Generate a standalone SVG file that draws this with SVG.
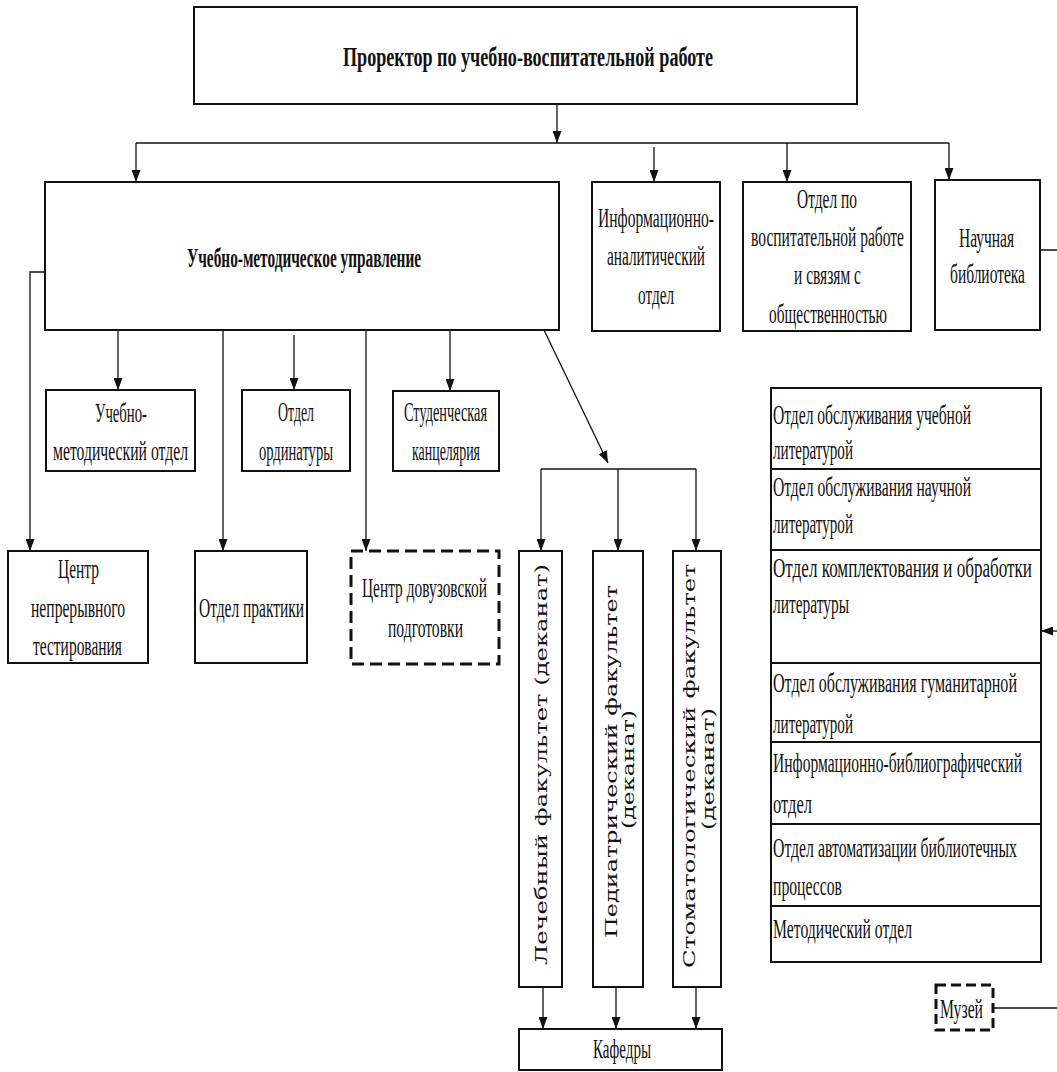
<svg xmlns="http://www.w3.org/2000/svg" width="1057" height="1072" viewBox="0 0 1057 1072">
<defs>
<marker id="ah" markerUnits="userSpaceOnUse" markerWidth="12" markerHeight="9" refX="12" refY="4.5" orient="auto">
<path d="M0,0 L12,4.5 L0,9 z" fill="#111"/>
</marker>
<style>
.box{fill:#fff;stroke:#111;stroke-width:2}
.dash{fill:#fff;stroke:#111;stroke-width:3;stroke-dasharray:12 6}
.c{fill:none;stroke:#111;stroke-width:1.3}
.a{marker-end:url(#ah)}
text{font-family:"Liberation Serif","Times New Roman",serif;font-size:28px;fill:#111}
.b{font-weight:bold}
.v{font-family:"DejaVu Serif","Liberation Serif",serif;font-size:17px}
</style>
</defs>
<rect width="1057" height="1072" fill="#fff"/>

<g id="connectors">
<path class="c a" d="M557,104 V143"/>
<path class="c" d="M136,143 H949"/>
<path class="c a" d="M136,143 V182"/>
<path class="c a" d="M654,147 V182"/>
<path class="c a" d="M787,143 V182"/>
<path class="c a" d="M949,143 V180"/>
<path class="c a" d="M45,272 H30 V551"/>
<path class="c a" d="M118,330 V390"/>
<path class="c a" d="M223,330 V551"/>
<path class="c a" d="M294,335 V390"/>
<path class="c a" d="M366,330 V551"/>
<path class="c a" d="M450,330 V391"/>
<path class="c a" d="M544,330 L608,463"/>
<path class="c" d="M541,469 H696"/>
<path class="c a" d="M541,469 V551"/>
<path class="c a" d="M618,469 V551"/>
<path class="c a" d="M696,469 V551"/>
<path class="c a" d="M543,987 V1029"/>
<path class="c a" d="M616,987 V1029"/>
<path class="c a" d="M696,987 V1029"/>
<path class="c" d="M1040,250 H1058 V1008 H993"/>
<path class="c a" d="M1058,631 H1041"/>
</g>

<g id="prorector">
<rect class="box" x="194" y="7" width="663" height="97"/>
<text class="b" transform="translate(343,66) scale(.56,1)" textLength="660.7" lengthAdjust="spacingAndGlyphs">Проректор по учебно-воспитательной работе</text>
</g>

<g id="umu">
<rect class="box" x="45" y="182" width="514" height="148"/>
<text class="b" transform="translate(187,267) scale(.56,1)" textLength="417.9" lengthAdjust="spacingAndGlyphs">Учебно-методическое управление</text>
</g>

<g id="info">
<rect class="box" x="592" y="182" width="128" height="149"/>
<text transform="translate(598,227) scale(.56,1)" textLength="207.1" lengthAdjust="spacingAndGlyphs">Информационно-</text>
<text transform="translate(607,265) scale(.56,1)" textLength="175" lengthAdjust="spacingAndGlyphs">аналитический</text>
<text transform="translate(638,304) scale(.56,1)" textLength="64.3" lengthAdjust="spacingAndGlyphs">отдел</text>
</g>

<g id="vospit">
<rect class="box" x="743" y="182" width="168" height="149"/>
<text transform="translate(797,208) scale(.56,1)" textLength="107.1" lengthAdjust="spacingAndGlyphs">Отдел по</text>
<text transform="translate(751,246) scale(.56,1)" textLength="273.2" lengthAdjust="spacingAndGlyphs">воспитательной работе</text>
<text transform="translate(794,284) scale(.56,1)" textLength="119.6" lengthAdjust="spacingAndGlyphs">и связям с</text>
<text transform="translate(769,323) scale(.56,1)" textLength="210.7" lengthAdjust="spacingAndGlyphs">общественностью</text>
</g>

<g id="library">
<rect class="box" x="935" y="180" width="105" height="150"/>
<text transform="translate(959,247) scale(.56,1)" textLength="98.2" lengthAdjust="spacingAndGlyphs">Научная</text>
<text transform="translate(950,283) scale(.56,1)" textLength="133.9" lengthAdjust="spacingAndGlyphs">библиотека</text>
</g>

<g id="umo">
<rect class="box" x="46" y="390" width="149" height="81"/>
<text transform="translate(95,422) scale(.56,1)" textLength="92.9" lengthAdjust="spacingAndGlyphs">Учебно-</text>
<text transform="translate(53,460) scale(.56,1)" textLength="241.1" lengthAdjust="spacingAndGlyphs">методический отдел</text>
</g>

<g id="ordinatura">
<rect class="box" x="242" y="390" width="108" height="81"/>
<text transform="translate(278,421) scale(.56,1)" textLength="64.3" lengthAdjust="spacingAndGlyphs">Отдел</text>
<text transform="translate(259,460) scale(.56,1)" textLength="132.1" lengthAdjust="spacingAndGlyphs">ординатуры</text>
</g>

<g id="kancelyaria">
<rect class="box" x="393" y="391" width="106" height="80"/>
<text transform="translate(404,421) scale(.56,1)" textLength="148.2" lengthAdjust="spacingAndGlyphs">Студенческая</text>
<text transform="translate(412,460) scale(.56,1)" textLength="121.4" lengthAdjust="spacingAndGlyphs">канцелярия</text>
</g>

<g id="cnt">
<rect class="box" x="8" y="551" width="140" height="112"/>
<text transform="translate(58,578) scale(.56,1)" textLength="73.2" lengthAdjust="spacingAndGlyphs">Центр</text>
<text transform="translate(31,617) scale(.56,1)" textLength="167.9" lengthAdjust="spacingAndGlyphs">непрерывного</text>
<text transform="translate(33,655) scale(.56,1)" textLength="158.9" lengthAdjust="spacingAndGlyphs">тестирования</text>
</g>

<g id="praktika">
<rect class="box" x="195" y="551" width="112" height="112"/>
<text transform="translate(199,617) scale(.56,1)" textLength="187.5" lengthAdjust="spacingAndGlyphs">Отдел практики</text>
</g>

<g id="cdp">
<rect class="dash" x="351" y="551" width="148" height="113"/>
<text transform="translate(362,597) scale(.56,1)" textLength="223.2" lengthAdjust="spacingAndGlyphs">Центр довузовской</text>
<text transform="translate(388,637) scale(.56,1)" textLength="133.9" lengthAdjust="spacingAndGlyphs">подготовки</text>
</g>

<g id="lech">
<rect class="box" x="519" y="551" width="43" height="436"/>
<text class="v" transform="translate(547,965) rotate(-90)" textLength="401" lengthAdjust="spacingAndGlyphs">Лечебный факультет (деканат)</text>
</g>

<g id="ped">
<rect class="box" x="593" y="551" width="50" height="436"/>
<text class="v" transform="translate(617,938) rotate(-90)" textLength="353" lengthAdjust="spacingAndGlyphs">Педиатрический факультет</text>
<text class="v" transform="translate(634,829) rotate(-90)" textLength="119" lengthAdjust="spacingAndGlyphs">(деканат)</text>
</g>

<g id="stom">
<rect class="box" x="673" y="551" width="48" height="436"/>
<text class="v" transform="translate(695,968) rotate(-90)" textLength="404" lengthAdjust="spacingAndGlyphs">Стоматологический факультет</text>
<text class="v" transform="translate(714,830) rotate(-90)" textLength="122" lengthAdjust="spacingAndGlyphs">(деканат)</text>
</g>

<g id="kafedry">
<rect class="box" x="519" y="1029" width="203" height="41"/>
<text transform="translate(593,1058) scale(.56,1)" textLength="103.6" lengthAdjust="spacingAndGlyphs">Кафедры</text>
</g>

<g id="lib-uch">
<rect class="box" x="771" y="388" width="270" height="81"/>
<text transform="translate(773,424) scale(.56,1)" textLength="353.6" lengthAdjust="spacingAndGlyphs">Отдел обслуживания учебной</text>
<text transform="translate(773,459) scale(.56,1)" textLength="142.9" lengthAdjust="spacingAndGlyphs">литературой</text>
</g>
<g id="lib-nauch">
<rect class="box" x="771" y="469" width="270" height="81"/>
<text transform="translate(773,496) scale(.56,1)" textLength="353.6" lengthAdjust="spacingAndGlyphs">Отдел обслуживания научной</text>
<text transform="translate(773,533) scale(.56,1)" textLength="142.9" lengthAdjust="spacingAndGlyphs">литературой</text>
</g>
<g id="lib-kompl">
<rect class="box" x="771" y="550" width="270" height="113"/>
<text transform="translate(773,577) scale(.56,1)" textLength="462.5" lengthAdjust="spacingAndGlyphs">Отдел комплектования и обработки</text>
<text transform="translate(773,613) scale(.56,1)" textLength="135.7" lengthAdjust="spacingAndGlyphs">литературы</text>
</g>
<g id="lib-gum">
<rect class="box" x="771" y="663" width="270" height="79"/>
<text transform="translate(773,692) scale(.56,1)" textLength="435.7" lengthAdjust="spacingAndGlyphs">Отдел обслуживания гуманитарной</text>
<text transform="translate(773,733) scale(.56,1)" textLength="142.9" lengthAdjust="spacingAndGlyphs">литературой</text>
</g>
<g id="lib-ibo">
<rect class="box" x="771" y="742" width="270" height="82"/>
<text transform="translate(773,772) scale(.56,1)" textLength="444.6" lengthAdjust="spacingAndGlyphs">Информационно-библиографический</text>
<text transform="translate(773,813) scale(.56,1)" textLength="69.6" lengthAdjust="spacingAndGlyphs">отдел</text>
</g>
<g id="lib-avt">
<rect class="box" x="771" y="824" width="270" height="82"/>
<text transform="translate(773,857) scale(.56,1)" textLength="435.7" lengthAdjust="spacingAndGlyphs">Отдел автоматизации библиотечных</text>
<text transform="translate(773,895) scale(.56,1)" textLength="123.2" lengthAdjust="spacingAndGlyphs">процессов</text>
</g>
<g id="lib-met">
<rect class="box" x="771" y="906" width="270" height="56"/>
<text transform="translate(773,938) scale(.56,1)" textLength="248.2" lengthAdjust="spacingAndGlyphs">Методический отдел</text>
</g>

<g id="muzei">
<rect class="dash" x="936" y="985" width="57" height="45" style="stroke-dasharray:10 5"/>
<text transform="translate(940,1018) scale(.56,1)" textLength="76.8" lengthAdjust="spacingAndGlyphs">Музей</text>
</g>
</svg>
